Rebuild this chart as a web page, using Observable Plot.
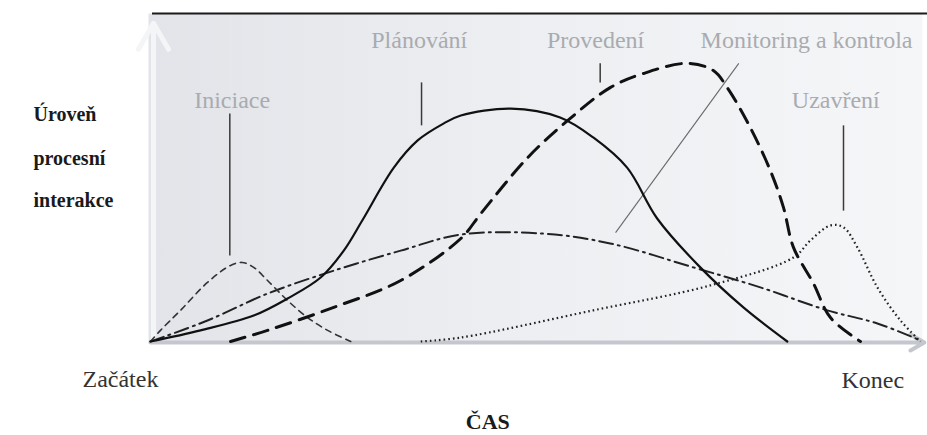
<!DOCTYPE html>
<html>
<head>
<meta charset="utf-8">
<script src="https://cdn.jsdelivr.net/npm/d3@7"></script>
<script src="https://cdn.jsdelivr.net/npm/@observablehq/plot@0.6"></script>
<style>
  html, body { margin: 0; padding: 0; background: #ffffff; }
  #chart svg { display: block; }
</style>
</head>
<body>
<div id="chart"></div>
<script>
// ---- Data: time (0 = Začátek, 100 = Konec) vs. level of process interaction (0..100) ----
const iniciace = [[0,0],[1.3,3.4],[3.9,9.5],[7.4,18.0],[10.4,23.2],[11.9,24.1],[13.4,22.6],[15.2,18.6],[17.8,12.5],[20.4,7.3],[23.0,3.4],[26.0,0]];
const planovani = [[0,0],[6.5,3.4],[13.4,7.9],[17.8,13.1],[22.1,19.5],[25.1,27.7],[27.5,36.9],[31.6,53.0],[34.7,61.3],[38.1,66.5],[40.3,68.9],[46.8,71.0],[53.2,68.3],[57.5,62.2],[61.9,53.0],[65.8,37.5],[71.4,22.6],[77.0,10.4],[82.7,0]];
const provedeni = [[10.4,0],[15.2,3.4],[23.8,10.4],[32.5,18.6],[40.3,31.4],[42.9,39.0],[49.0,56.1],[54.2,67.4],[59.7,77.4],[64.0,81.7],[69.7,84.8],[73.1,82.6],[74.9,77.4],[77.9,65.2],[80.5,52.1],[82.2,40.9],[83.5,28.7],[86.1,17.7],[88.3,7.3],[92.2,0]];
const monitoring = [[0,0],[7.4,6.4],[15.2,14.6],[23.8,21.6],[32.5,27.7],[40.3,32.6],[51.0,32.9],[59.7,29.9],[70.5,22.6],[79.2,16.5],[87.9,9.5],[94.4,5.5],[100,0.3]];
const uzavreni = [[35.1,0],[40.3,1.2],[57.5,9.5],[72.7,17.1],[83.5,25.6],[85.7,30.8],[88.3,35.4],[90.0,34.8],[91.8,28.7],[94.4,16.5],[97.4,6.4],[100,0]];

// Phase labels and their leader lines
const phaseLabels = ["Iniciace", "Plánování", "Provedení", "Monitoring a kontrola", "Uzavření"];
const phaseLabelT = [10.6, 34.9, 57.8, 85.2, 89.0];
const phaseLabelLevel = [71.3, 89.6, 89.6, 89.6, 71.3];
const leaderT1 = [10.3, 35.2, 58.4, 76.4, 90.0];
const leaderL1 = [69.5, 79.0, 84.8, 84.8, 65.9];
const leaderT2 = [10.3, 35.2, 58.4, 60.4, 90.0];
const leaderL2 = [26.2, 65.9, 79.0, 33.2, 39.9];

// Axis texts
const timeDomain = [0, 100];
const levelDomain = [0, 100];
const axisEndLabels = ["Začátek", "Konec"];
const axisEndT = [-3.9, 93.8];
const axisEndLevel = [-14.0, -14.3];
const yTitleLines = ["Úroveň", "procesní", "interakce"];
const yTitleT = -15.2;
const yTitleLevel = [67.1, 53.7, 40.9];
const xTitle = "ČAS";
const xTitleT = 43.8;
const xTitleLevel = -26.8;

// ---- Build tables ----
const toRows = pts => pts.map(([t, v]) => ({t, v}));
const phaseRows = phaseLabels.map((name, i) => ({name, t: phaseLabelT[i], v: phaseLabelLevel[i]}));
const leaderRows = phaseLabels.map((name, i) => ({name, t1: leaderT1[i], v1: leaderL1[i], t2: leaderT2[i], v2: leaderL2[i]}));
const axisEndRows = axisEndLabels.map((name, i) => ({name, t: axisEndT[i], v: axisEndLevel[i]}));
const yTitleRows = yTitleLines.map((name, i) => ({name, t: yTitleT, v: yTitleLevel[i]}));

const serifFace = "Liberation Serif";

const chart = Plot.plot({
  width: 927,
  height: 435,
  marginLeft: 150,
  marginRight: 7,
  marginTop: 13,
  marginBottom: 94,
  style: {background: "#ffffff", overflow: "visible"},
  x: {domain: timeDomain, axis: null},
  y: {domain: levelDomain, axis: null},
  marks: [
    // background panel
    Plot.frame({fill: "url(#bg)", stroke: "none", insetLeft: -2, insetRight: -2, insetBottom: -2}),
    // vertical (light) axis arrow
    Plot.arrow([{t1: timeDomain[0], v1: levelDomain[0], t2: timeDomain[0], v2: levelDomain[1] - 3}], {
      x1: "t1", y1: "v1", x2: "t2", y2: "v2", stroke: "#f4f5f7", strokeWidth: 5, headLength: 9, dx: 3
    }),
    // horizontal axis arrow
    Plot.arrow([{t1: timeDomain[0], v1: levelDomain[0], t2: timeDomain[1] + 0.5, v2: levelDomain[0]}], {
      x1: "t1", y1: "v1", x2: "t2", y2: "v2", stroke: "#c4c7cd", strokeWidth: 4, headLength: 6, dy: 1
    }),
    // top border line
    Plot.ruleY([levelDomain[1]], {stroke: "#1a1a1a", strokeWidth: 2, insetLeft: 2, insetRight: -7}),

    // leader lines
    Plot.link(leaderRows, {
      x1: "t1", y1: "v1", x2: "t2", y2: "v2",
      stroke: d => d.name === "Monitoring a kontrola" ? "#6a6a6a" : "#3a3a3a",
      strokeWidth: d => d.name === "Monitoring a kontrola" ? 1.1 : 1.5
    }),

    // curves
    Plot.line(toRows(uzavreni), {x: "t", y: "v", curve: "catmull-rom", stroke: "#222", strokeWidth: 2.2, strokeDasharray: "1.6,3", strokeLinecap: "butt"}),
    Plot.line(toRows(monitoring), {x: "t", y: "v", curve: "catmull-rom", stroke: "#222", strokeWidth: 2, strokeDasharray: "14,5,2,5"}),
    Plot.line(toRows(iniciace), {x: "t", y: "v", curve: "catmull-rom", stroke: "#333", strokeWidth: 1.6, strokeDasharray: "6,5"}),
    Plot.line(toRows(provedeni), {x: "t", y: "v", curve: "catmull-rom", stroke: "#111", strokeWidth: 3, strokeDasharray: "15,9"}),
    Plot.line(toRows(planovani), {x: "t", y: "v", curve: "catmull-rom", stroke: "#111", strokeWidth: 2.2}),

    // phase labels
    Plot.text(phaseRows, {x: "t", y: "v", text: "name", fill: "#a9abb0", fontSize: 24, fontFamily: serifFace, lineAnchor: "bottom", textAnchor: "middle"}),
    // axis end labels
    Plot.text(axisEndRows, {x: "t", y: "v", text: "name", fill: "#333", fontSize: 24, fontFamily: serifFace, lineAnchor: "bottom", textAnchor: "middle"}),
    // y title
    Plot.text(yTitleRows, {x: "t", y: "v", text: "name", fill: "#1a1a1a", fontSize: 20, fontFamily: serifFace, fontWeight: "bold", lineAnchor: "bottom", textAnchor: "start"}),
    // x title
    Plot.text([{name: xTitle, t: xTitleT, v: xTitleLevel}], {x: "t", y: "v", text: "name", fill: "#1a1a1a", fontSize: 22, fontFamily: serifFace, fontWeight: "bold", lineAnchor: "bottom", textAnchor: "middle"})
  ]
});

d3.select(chart).insert("defs", ":first-child").html(`
  <linearGradient id="bg" x1="0" x2="1" y1="0" y2="0">
    <stop offset="0%" stop-color="#e2e4e9"/>
    <stop offset="45%" stop-color="#eceef1"/>
    <stop offset="100%" stop-color="#f5f6f8"/>
  </linearGradient>`);

document.getElementById("chart").appendChild(chart);
</script>
</body>
</html>
